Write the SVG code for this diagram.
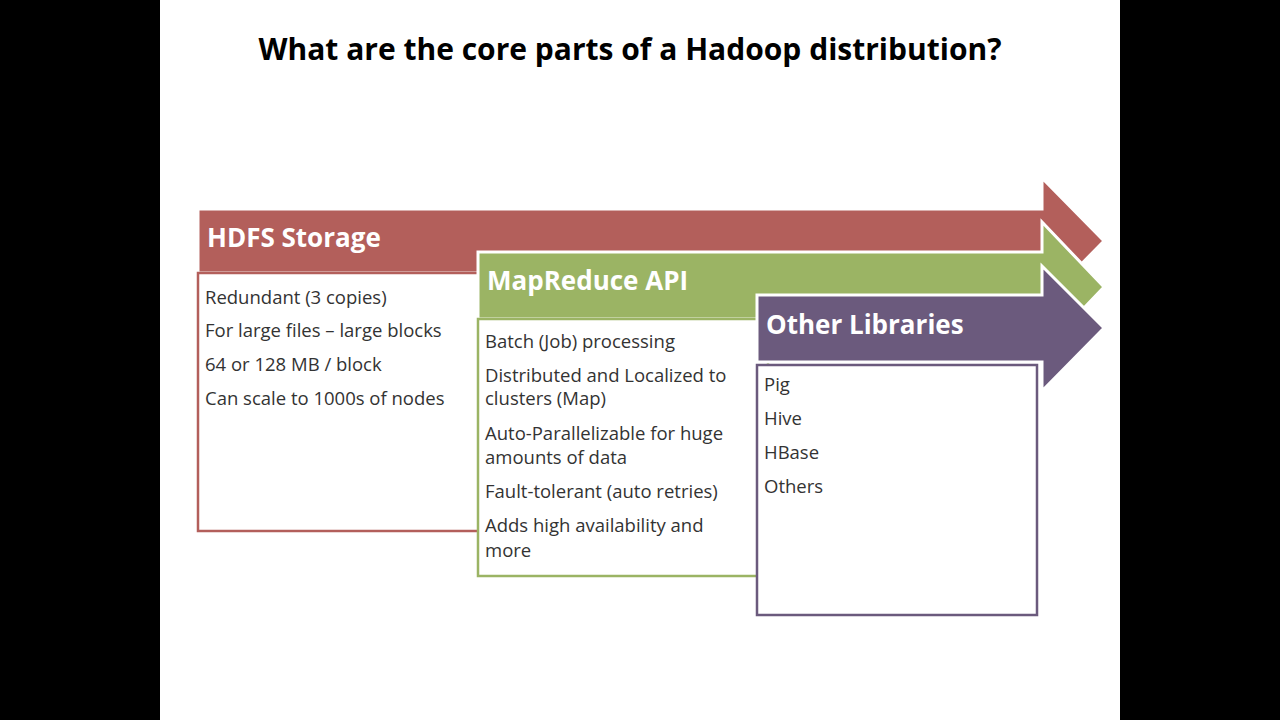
<svg xmlns="http://www.w3.org/2000/svg" width="1280" height="720" viewBox="0 0 1280 720">
<style>
.hd{font-family:"Open Sans","Liberation Sans",sans-serif;font-weight:bold;font-size:26px;fill:#fff}
.tx{font-family:"Open Sans","Liberation Sans",sans-serif;font-size:18.5px;fill:#333}
.box{fill:#fff;stroke-width:2.5}
.arr{stroke:#fff;stroke-width:3;stroke-linejoin:miter}
</style>
<rect width="1280" height="720" fill="#000"/>
<rect x="160" y="0" width="960" height="720" fill="#fff"/>
<text x="630" y="60" text-anchor="middle" font-family="Open Sans, Liberation Sans, sans-serif" font-weight="bold" font-size="30" fill="#000">What are the core parts of a Hadoop distribution?</text>
<g id="hdfs">
<path class="arr" fill="#b35f5b" d="M198,209 H1042 V178 L1104,241 L1042,304 V273 H198 Z"/>
<text class="hd" x="207" y="247">HDFS Storage</text>
<rect class="box" x="198" y="273" width="290" height="258" stroke="#b35f5b"/>
<text class="tx" x="205" y="304">Redundant (3 copies)</text>
<text class="tx" x="205" y="337">For large files – large blocks</text>
<text class="tx" x="205" y="371">64 or 128 MB / block</text>
<text class="tx" x="205" y="405">Can scale to 1000s of nodes</text>
</g>
<g id="mapreduce">
<path class="arr" fill="#9bb464" d="M478,252 H1042 V222 L1104,287 L1042,352 V319 H478 Z"/>
<text class="hd" x="487" y="290">MapReduce API</text>
<rect class="box" x="478" y="319" width="290" height="257" stroke="#9bb464"/>
<text class="tx" x="485" y="348">Batch (Job) processing</text>
<text class="tx" x="485" y="382">Distributed and Localized to</text>
<text class="tx" x="485" y="405">clusters (Map)</text>
<text class="tx" x="485" y="440">Auto-Parallelizable for huge</text>
<text class="tx" x="485" y="464">amounts of data</text>
<text class="tx" x="485" y="498">Fault-tolerant (auto retries)</text>
<text class="tx" x="485" y="532">Adds high availability and</text>
<text class="tx" x="485" y="557">more</text>
</g>
<g id="others">
<path class="arr" fill="#6b5a7d" d="M757,295 H1042 V266 L1104,328 L1042,391 V362 H757 Z"/>
<text class="hd" x="766" y="334">Other Libraries</text>
<rect class="box" x="757" y="365" width="280" height="250" stroke="#6b5a7d"/>
<text class="tx" x="764" y="391">Pig</text>
<text class="tx" x="764" y="425">Hive</text>
<text class="tx" x="764" y="459">HBase</text>
<text class="tx" x="764" y="493">Others</text>
</g>
<g id="connectors"/>
</svg>
